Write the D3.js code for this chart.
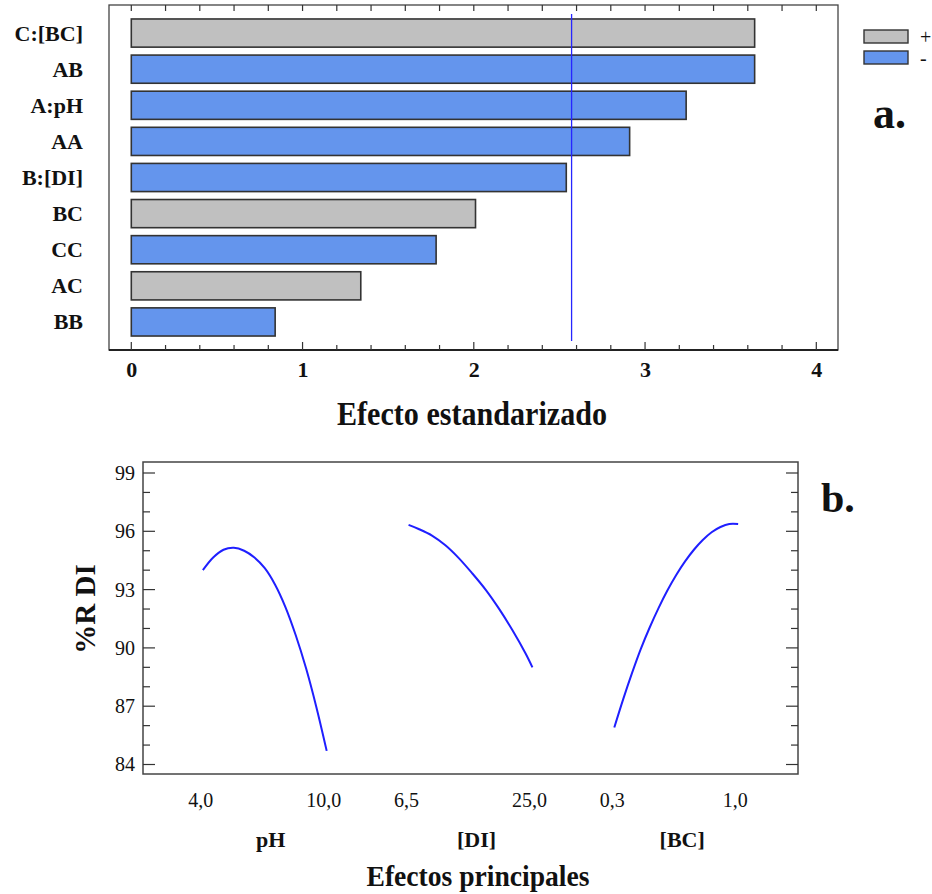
<!DOCTYPE html>
<html>
<head>
<meta charset="utf-8">
<script src="https://cdn.jsdelivr.net/npm/d3@7"></script>
<style>
  body { margin: 0; background: #fff; }
  svg { display: block; }
  text { font-family: "Liberation Serif", "Times New Roman", serif; fill: #111; }
</style>
</head>
<body>
<svg id="chart" width="932" height="894"></svg>
<script>
// ---- Panel a: Pareto chart of standardized effects ----
const effectTerms  = ["C:[BC]", "AB", "A:pH", "AA", "B:[DI]", "BC", "CC", "AC", "BB"];
const effectValues = [3.64, 3.64, 3.24, 2.91, 2.54, 2.01, 1.78, 1.34, 0.84];
const effectSigns  = ["+", "-", "-", "-", "-", "+", "-", "+", "-"];
const criticalT    = 2.571;
const effectTicks  = [0, 1, 2, 3, 4];
const legendSigns  = ["+", "-"];

// ---- Panel b: main effects plot for %R DI ----
const factorNames   = ["pH", "[DI]", "[BC]"];
const phLevels      = [4.0, 4.5, 5.0, 5.5, 6.0, 6.5, 7.0, 7.5, 8.0, 8.5, 9.0, 9.5, 10.0];
const phResponse    = [94.0, 94.65, 95.05, 95.15, 95.0, 94.65, 94.1, 93.25, 92.1, 90.65, 88.95, 86.95, 84.7];
const diLevels      = [6.5, 8, 10, 12, 14, 16, 18, 20, 22, 24, 25];
const diResponse    = [96.33, 96.12, 95.78, 95.28, 94.62, 93.84, 93.0, 92.02, 90.92, 89.7, 89.0];
const bcLevels      = [0.30, 0.35, 0.40, 0.45, 0.50, 0.55, 0.60, 0.65, 0.70, 0.75, 0.80, 0.85, 0.90, 0.95, 1.00];
const bcResponse    = [85.9, 87.35, 88.7, 89.95, 91.05, 92.05, 92.95, 93.75, 94.45, 95.05, 95.55, 95.95, 96.22, 96.38, 96.38];
const factorTicks   = [[4.0, 10.0], [6.5, 25.0], [0.3, 1.0]];
const responseTicks = [84, 87, 90, 93, 96, 99];

const colors = { "+": "#c0c0c0", "-": "#6495ed" };
const svg = d3.select("#chart");
const fmtComma = v => d3.format(".1f")(v).replace(".", ",");

// ================= Panel a =================
const aLeft = 109, aRight = 838, aTop = 5, aBottom = 350;
const xA = d3.scaleLinear().domain([0, 4]).range([131.3, 816.3]);
const yA = d3.scaleBand().domain(effectTerms).range([15, 340])
  .paddingInner(0.22).paddingOuter(0.11);

const gA = svg.append("g");

// frame
gA.append("rect").attr("x", aLeft).attr("y", aTop)
  .attr("width", aRight - aLeft).attr("height", aBottom - aTop)
  .attr("fill", "none").attr("stroke", "#444").attr("stroke-width", 1.3);
gA.append("line").attr("x1", aLeft).attr("x2", aRight).attr("y1", aBottom).attr("y2", aBottom)
  .attr("stroke", "#222").attr("stroke-width", 2);

// minor ticks along top and bottom
const minorA = d3.range(0, 4.001, 0.2);
gA.selectAll("line.topTick").data(minorA).join("line")
  .attr("x1", d => xA(d)).attr("x2", d => xA(d))
  .attr("y1", aTop).attr("y2", aTop + 6)
  .attr("stroke", "#333").attr("stroke-width", 1.2);
gA.selectAll("line.botTick").data(minorA).join("line")
  .attr("x1", d => xA(d)).attr("x2", d => xA(d))
  .attr("y1", aBottom).attr("y2", d => aBottom - (Math.abs(d - Math.round(d)) < 1e-6 ? 8 : 5))
  .attr("stroke", "#333").attr("stroke-width", 1.2);

// bottom axis labels
const axA = d3.axisBottom(xA).tickValues(effectTicks).tickSize(0).tickPadding(11.5)
  .tickFormat(d3.format("d"));
gA.append("g").attr("transform", `translate(0,${aBottom})`).call(axA)
  .call(g => g.select(".domain").remove())
  .selectAll("text")
  .attr("font-family", "Liberation Serif, serif")
  .attr("font-size", 22).attr("font-weight", "bold").attr("fill", "#111");

// bars
gA.selectAll("rect.bar").data(effectTerms).join("rect")
  .attr("class", "bar")
  .attr("x", xA(0))
  .attr("y", d => yA(d))
  .attr("width", (d, i) => xA(effectValues[i]) - xA(0))
  .attr("height", yA.bandwidth())
  .attr("fill", (d, i) => colors[effectSigns[i]])
  .attr("stroke", "#333").attr("stroke-width", 1.6);

// term labels
gA.selectAll("text.term").data(effectTerms).join("text")
  .attr("class", "term")
  .attr("x", 83).attr("y", d => yA(d) + yA.bandwidth() / 2)
  .attr("dy", "0.34em").attr("text-anchor", "end")
  .attr("font-size", 22).attr("font-weight", "bold")
  .text(d => d);

// critical value reference line
gA.append("line")
  .attr("x1", xA(criticalT)).attr("x2", xA(criticalT))
  .attr("y1", 14).attr("y2", 341)
  .attr("stroke", "#2626ff").attr("stroke-width", 1.3);

// x title
gA.append("text").attr("x", 472).attr("y", 425).attr("text-anchor", "middle")
  .attr("font-size", 34).attr("font-weight", "bold")
  .attr("textLength", 270).attr("lengthAdjust", "spacingAndGlyphs")
  .text("Efecto estandarizado");

// legend
const leg = gA.selectAll("g.leg").data(legendSigns).join("g")
  .attr("transform", (d, i) => `translate(864,${30 + i * 21})`);
leg.append("rect").attr("width", 44).attr("height", 13)
  .attr("fill", d => colors[d]).attr("stroke", "#333").attr("stroke-width", 1.4);
leg.append("text").attr("x", 56).attr("y", 7).attr("dy", "0.35em")
  .attr("font-size", 20).text(d => d);

// panel letter
svg.append("text").attr("x", 873).attr("y", 128)
  .attr("font-size", 44).attr("font-weight", "bold").text("a.");

// ================= Panel b =================
const bLeft = 143, bRight = 798, bTop = 462, bBottom = 774;
const yB = d3.scaleLinear().domain([84, 99]).range([764.5, 473]);
const xBand = d3.scaleBand().domain(factorNames).range([bLeft, bRight])
  .paddingInner(0.398).paddingOuter(0.291);

const gB = svg.append("g");
gB.append("rect").attr("x", bLeft).attr("y", bTop)
  .attr("width", bRight - bLeft).attr("height", bBottom - bTop)
  .attr("fill", "none").attr("stroke", "#444").attr("stroke-width", 1.5);

// y ticks (both sides, pointing inward)
const minorB = d3.range(84, 99.001, 1);
const isMajor = d => responseTicks.includes(d);
gB.selectAll("line.lt").data(minorB).join("line")
  .attr("x1", bLeft).attr("x2", d => bLeft + (isMajor(d) ? 12 : 7))
  .attr("y1", d => yB(d)).attr("y2", d => yB(d))
  .attr("stroke", "#333").attr("stroke-width", 1.2);
gB.selectAll("line.rt").data(minorB).join("line")
  .attr("x1", bRight).attr("x2", d => bRight - (isMajor(d) ? 12 : 7))
  .attr("y1", d => yB(d)).attr("y2", d => yB(d))
  .attr("stroke", "#333").attr("stroke-width", 1.2);

const axB = d3.axisLeft(yB).tickValues(responseTicks).tickSize(0).tickPadding(8)
  .tickFormat(d3.format("d"));
gB.append("g").attr("transform", `translate(${bLeft},0)`).call(axB)
  .call(g => g.select(".domain").remove())
  .selectAll("text")
  .attr("font-family", "Liberation Serif, serif")
  .attr("font-size", 20).attr("fill", "#222");

// y title
gB.append("text")
  .attr("transform", "translate(95,609) rotate(-90)")
  .attr("text-anchor", "middle")
  .attr("font-size", 29).attr("font-weight", "bold")
  .text("%R DI");

// curves
const series = [
  { name: "pH", levels: phLevels, resp: phResponse },
  { name: "[DI]", levels: diLevels, resp: diResponse },
  { name: "[BC]", levels: bcLevels, resp: bcResponse }
];
series.forEach((s, k) => {
  const x0 = xBand(s.name);
  const xs = d3.scaleLinear().domain(d3.extent(s.levels)).range([x0, x0 + xBand.bandwidth()]);
  const pts = s.levels.map((v, i) => [xs(v), yB(s.resp[i])]);
  gB.append("path")
    .attr("d", d3.line().curve(d3.curveCatmullRom.alpha(0.5))(pts))
    .attr("fill", "none").attr("stroke", "#1f1fff").attr("stroke-width", 2);

  // level tick labels under the frame
  gB.selectAll(null).data(factorTicks[k]).join("text")
    .attr("x", (d, j) => xs(d) + (j === 0 ? -2 : -3)).attr("y", 807).attr("text-anchor", "middle")
    .attr("font-size", 20).attr("fill", "#222")
    .text(fmtComma);

  // factor name
  gB.append("text")
    .attr("x", x0 + xBand.bandwidth() / 2 + 6).attr("y", 847)
    .attr("text-anchor", "middle")
    .attr("font-size", 22).attr("font-weight", "bold")
    .text(s.name);
});

// x title
gB.append("text").attr("x", 478).attr("y", 886).attr("text-anchor", "middle")
  .attr("font-size", 30).attr("font-weight", "bold")
  .attr("textLength", 223).attr("lengthAdjust", "spacingAndGlyphs")
  .text("Efectos principales");

// panel letter
svg.append("text").attr("x", 821).attr("y", 512)
  .attr("font-size", 42).attr("font-weight", "bold").text("b.");
</script>
</body>
</html>
